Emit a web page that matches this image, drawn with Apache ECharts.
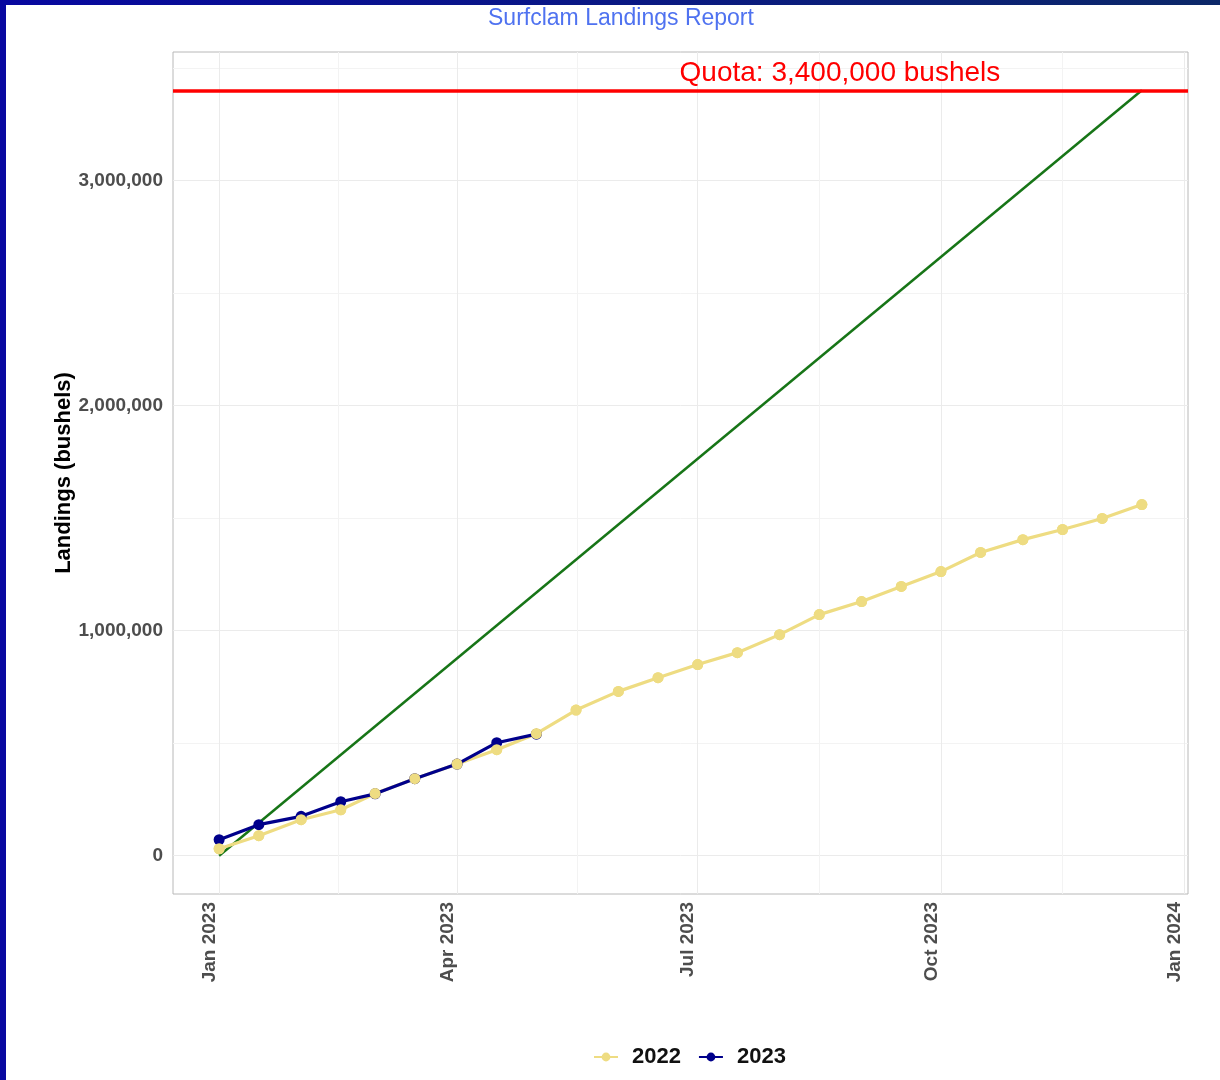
<!DOCTYPE html>
<html><head><meta charset="utf-8">
<script src="https://cdn.jsdelivr.net/npm/echarts@6/dist/echarts.min.js"></script>
<style>html,body{margin:0;padding:0;background:#fff}#c{width:1220px;height:1080px}</style>
</head><body><div id="c"></div>
<script>
// ---- data ----
const dates = ['2023-01-01','2023-01-16','2023-02-01','2023-02-16','2023-03-01','2023-03-16','2023-04-01','2023-04-16','2023-05-01','2023-05-16','2023-06-01','2023-06-16','2023-07-01','2023-07-16','2023-08-01','2023-08-16','2023-09-01','2023-09-16','2023-10-01','2023-10-16','2023-11-01','2023-11-16','2023-12-01','2023-12-16'];
const landings2022 = [31000, 89000, 160000, 204000, 276000, 342000, 407000, 471000, 542000, 647000, 730000, 791000, 849000, 902000, 982000, 1071000, 1129000, 1196000, 1262000, 1347000, 1404000, 1449000, 1498000, 1560000];
const landings2023 = [71000, 138000, 175000, 240000, 275000, 342000, 407000, 502000, 540000];
const quota = 3400000;
const targetStart = ['2023-01-01', 0];
const targetEnd = ['2023-12-16', 3400000];
const quotaLabelPos = ['2023-08-23T19:00:00', 3476000];
const yTickValues = [0, 500000, 1000000, 1500000, 2000000, 2500000, 3000000, 3500000];
const yLabelValues = [0, 1000000, 2000000, 3000000];
const xGridDates = ['2023-01-01','2023-02-15','2023-04-01','2023-05-16T12:00:00','2023-07-01','2023-08-16','2023-10-01','2023-11-16','2024-01-01'];
const xLabelDates = ['2023-01-01','2023-04-01','2023-07-01','2023-10-01','2024-01-01'];
const xLabelText = ['Jan 2023','Apr 2023','Jul 2023','Oct 2023','Jan 2024'];
const xRange = ['2022-12-14T13:12:00', '2024-01-02T10:48:00'];
const yRange = [-170000, 3570000];

// ---- helpers ----
const t = s => new Date(s.length === 10 ? s + 'T00:00:00' : s).getTime();
const fmt = v => Number(v).toLocaleString('en-US');
const xLabelTs = xLabelDates.map(t);

const chart = echarts.init(document.getElementById('c'));
const FONT = 'Liberation Sans, Arial, sans-serif';

chart.setOption({
  animation: false,
  backgroundColor: '#ffffff',
  textStyle: { fontFamily: FONT },
  title: {
    text: 'Surfclam Landings Report',
    left: 483, top: 2,
    textStyle: { color: '#4f72f0', fontSize: 23, fontWeight: 'normal', fontFamily: FONT }
  },
  graphic: [
    { type: 'rect', z: 100, shape: { x: 0, y: 0, width: 6, height: 1080 }, style: { fill: '#0808a0' } },
    { type: 'rect', z: 100, shape: { x: 0, y: 0, width: 1220, height: 5 },
      style: { fill: new echarts.graphic.LinearGradient(0, 0, 1, 0, [
        { offset: 0, color: '#0808a0' }, { offset: 1, color: '#0c2868' }]) } }
  ],
  legend: {
    data: ['2022', '2023'],
    left: 588, top: 1041,
    itemWidth: 24, itemHeight: 11, itemGap: 17,
    textStyle: { fontSize: 22, fontWeight: 'bold', color: '#111', padding: [0, 0, 0, 9], fontFamily: FONT }
  },
  grid: {
    left: 173, right: 32, top: 52, bottom: 186,
    show: true, borderColor: '#b8b8b8', borderWidth: 1, backgroundColor: 'transparent'
  },
  xAxis: {
    type: 'value',
    min: t(xRange[0]), max: t(xRange[1]),
    axisLine: { show: false },
    axisTick: { show: false, customValues: xGridDates.map(t) },
    axisLabel: {
      customValues: xLabelTs,
      rotate: 90, verticalAlign: 'bottom', margin: 8,
      fontSize: 19, fontWeight: 'bold', color: '#4d4d4d', fontFamily: FONT,
      formatter: function (v) {
        const i = xLabelTs.indexOf(v);
        return i >= 0 ? xLabelText[i] : '';
      }
    },
    splitLine: { show: true, lineStyle: { color: ['#ebebeb', '#f3f3f3'], width: 1 } }
  },
  yAxis: {
    type: 'value',
    min: yRange[0], max: yRange[1],
    name: 'Landings (bushels)',
    nameLocation: 'middle', nameGap: 98, nameMoveOverlap: false,
    nameTextStyle: { fontSize: 22, fontWeight: 'bold', color: '#000', fontFamily: FONT },
    axisLine: { show: false },
    axisTick: { show: false, customValues: yTickValues },
    axisLabel: {
      customValues: yLabelValues, margin: 10,
      fontSize: 19, fontWeight: 'bold', color: '#4d4d4d', fontFamily: FONT,
      formatter: v => fmt(v)
    },
    splitLine: { show: true, lineStyle: { color: ['#ebebeb', '#f3f3f3'], width: 1 } }
  },
  series: [
    {
      name: 'target', type: 'line', z: 1,
      data: [[t(targetStart[0]), targetStart[1]], [t(targetEnd[0]), targetEnd[1]]],
      showSymbol: false, symbol: 'none',
      lineStyle: { color: '#177517', width: 2.5 },
      itemStyle: { color: '#177517' },
      silent: true,
      markLine: {
        silent: true, symbol: 'none',
        label: { show: false },
        lineStyle: { color: '#ff0000', width: 3.5, type: 'solid' },
        data: [{ yAxis: quota }]
      },
      markPoint: {
        silent: true,
        data: [{
          coord: [t(quotaLabelPos[0]), quotaLabelPos[1]],
          symbol: 'circle', symbolSize: 1,
          itemStyle: { color: 'rgba(0,0,0,0)' },
          label: {
            show: true, position: 'inside',
            formatter: 'Quota: ' + fmt(quota) + ' bushels',
            color: '#ff0000', fontSize: 28, fontFamily: FONT
          }
        }]
      }
    },
    {
      name: '2022', type: 'line', z: 2,
      data: landings2022.map((v, i) => [t(dates[i]), v]),
      symbol: 'circle', symbolSize: 11, showSymbol: true,
      lineStyle: { color: '#EEDC82', width: 3.2 },
      itemStyle: { color: '#EEDC82' }
    },
    {
      name: '2023', type: 'line', z: 3,
      data: landings2023.map((v, i) => [t(dates[i]), v]),
      symbol: 'circle', symbolSize: 11, showSymbol: true,
      lineStyle: { color: '#00008B', width: 3.2 },
      itemStyle: { color: '#00008B' }
    },
    {
      name: '2022', type: 'scatter', z: 4,
      data: landings2022.map((v, i) => [t(dates[i]), v]),
      symbol: 'circle', symbolSize: 11,
      itemStyle: { color: '#EEDC82', opacity: 1 }
    }
  ]
});
</script>
</body></html>
